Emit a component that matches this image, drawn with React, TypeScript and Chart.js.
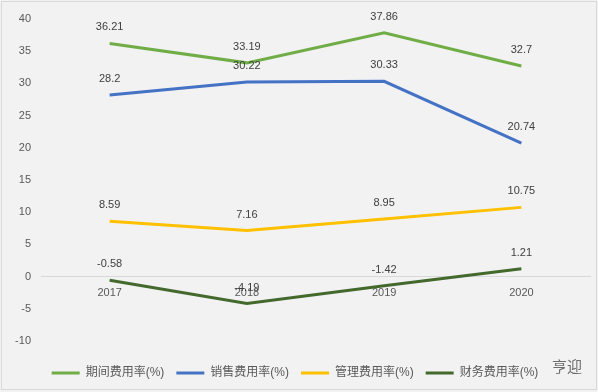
import React, { useEffect, useRef } from "react";
import { Chart, registerables } from "chart.js";

Chart.register(...registerables);

const categories = ["2017", "2018", "2019", "2020"];
const periodRate = [36.21, 33.19, 37.86, 32.7];
const salesRate = [28.2, 30.22, 30.33, 20.74];
const adminRate = [8.59, 7.16, 8.95, 10.75];
const financeRate = [-0.58, -4.19, -1.42, 1.21];
const seriesNames = ["期间费用率(%)", "销售费用率(%)", "管理费用率(%)", "财务费用率(%)"];
const seriesColors = ["#70ad47", "#4472c4", "#ffc000", "#44692c"];
const yMin = -10;
const yMax = 40;
const yStep = 5;

const FONT = "'Liberation Sans', 'Noto Sans CJK SC', sans-serif";

const dataLabelPlugin = {
  id: "dataLabels",
  afterDatasetsDraw(chart: any) {
    const ctx = chart.ctx;
    ctx.save();
    ctx.font = `11px ${FONT}`;
    ctx.fillStyle = "#404040";
    ctx.textAlign = "center";
    ctx.textBaseline = "middle";
    chart.data.datasets.forEach((ds: any, i: number) => {
      const meta = chart.getDatasetMeta(i);
      meta.data.forEach((pt: any, j: number) => {
        ctx.fillText(String(ds.data[j]), pt.x, pt.y - 16);
      });
    });
    ctx.restore();
  },
};

export default function App() {
  const ref = useRef<HTMLCanvasElement>(null);
  useEffect(() => {
    if (!ref.current) return;
    const data = [periodRate, salesRate, adminRate, financeRate];
    const chart = new Chart(ref.current, {
      type: "line",
      data: {
        labels: categories,
        datasets: data.map((d, i) => ({
          label: seriesNames[i],
          data: d,
          borderColor: seriesColors[i],
          backgroundColor: seriesColors[i],
          borderWidth: 3,
          pointRadius: 0,
          tension: 0,
          fill: false,
        })),
      },
      options: {
        responsive: false,
        animation: false,
        devicePixelRatio: 1,
        layout: { padding: { left: 0, right: 8, top: 19, bottom: 3 } },
        scales: {
          x: {
            type: "category",
            offset: true,
            position: { y: 0 } as any,
            grid: { display: false, drawTicks: false },
            border: { display: true, color: "#d9d9d9", width: 1 },
            ticks: { color: "#595959", font: { family: FONT, size: 11 }, padding: 10, maxRotation: 0 },
          },
          y: {
            min: yMin,
            max: yMax,
            grid: { display: false, drawTicks: false },
            border: { display: false },
            ticks: { stepSize: yStep, color: "#595959", font: { family: FONT, size: 11 }, padding: 10 },
            afterFit: (scale: any) => {
              scale.width = 41;
            },
          },
        },
        plugins: {
          tooltip: { enabled: false },
          legend: {
            position: "bottom",
            title: { display: true, text: "", padding: 0, font: { size: 14, lineHeight: 1 } as any },
            labels: {
              usePointStyle: true,
              pointStyle: "line",
              pointStyleWidth: 28,
              boxHeight: 12,
              padding: 12,
              color: "#595959",
              font: { family: FONT, size: 12 },
            },
          },
        },
      },
      plugins: [dataLabelPlugin],
    });
    return () => chart.destroy();
  }, []);

  return (
    <div style={{ position: "fixed", left: 0, top: 0, width: 598, height: 392, background: "#f2f2f2", overflow: "hidden" }}>
      <canvas ref={ref} width={598} height={392} style={{ position: "absolute", left: 0, top: 0 }} />
      <div style={{ position: "absolute", left: 1, top: 1, width: 594, height: 387, border: "1px solid #d9d9d9", pointerEvents: "none" }} />
      <div style={{ position: "absolute", left: 552, top: 355, fontFamily: "'Noto Sans CJK SC', sans-serif", fontSize: 15, color: "#555", opacity: 0.85 }}>亨迎</div>
    </div>
  );
}
